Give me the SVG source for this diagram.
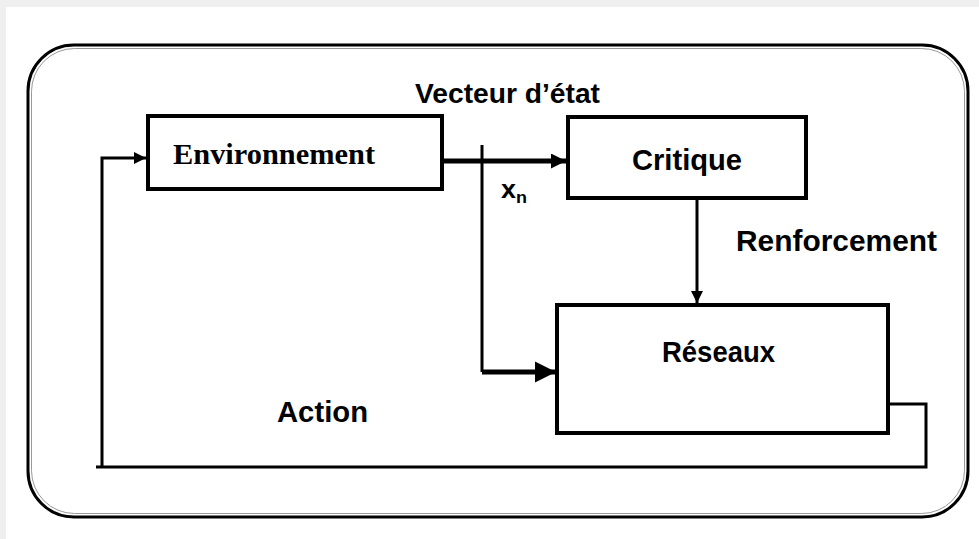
<svg xmlns="http://www.w3.org/2000/svg" width="979" height="539" viewBox="0 0 979 539">
<defs>
<style>
.box{fill:#fff;stroke:#000;stroke-width:4}
.ln{fill:none;stroke:#000;stroke-width:3}
.thick{fill:none;stroke:#000;stroke-width:5}
.lbl{font-family:"Liberation Sans",Arial,sans-serif;font-weight:bold;fill:#000}
.serif{font-family:"Liberation Serif","Times New Roman",serif;font-weight:bold;fill:#000}
</style>
<marker id="ah" viewBox="0 0 10 10" refX="10" refY="5" markerWidth="4" markerHeight="4" orient="auto" markerUnits="strokeWidth"><path d="M0,0 L10,5 L0,10 Z" fill="#000"/></marker>
<marker id="ahs" viewBox="0 0 10 10" refX="10" refY="5" markerWidth="3" markerHeight="3" orient="auto" markerUnits="strokeWidth"><path d="M0,0 L10,5 L0,10 Z" fill="#000"/></marker>
<marker id="ahb" viewBox="0 0 10 10" refX="10" refY="5" markerWidth="4.2" markerHeight="4.6" orient="auto" markerUnits="strokeWidth"><path d="M0,0 L10,5 L0,10 Z" fill="#000"/></marker>
</defs>
<rect x="0" y="0" width="979" height="539" fill="#fff"/>
<rect x="0" y="0" width="979" height="7" fill="#efefef"/>
<rect x="0" y="0" width="6" height="539" fill="#efefef"/>
<g id="frame">
<rect x="28" y="45" width="940" height="472" rx="46" ry="46" fill="none" stroke="#000" stroke-width="3"/>
<rect x="31.5" y="48.5" width="933" height="465" rx="43" ry="43" fill="none" stroke="#999" stroke-width="1"/>
</g>
<g id="connectors">
<path class="thick" d="M443,161 L566,161" marker-end="url(#ahs)"/>
<path class="ln" d="M482,145 L482,372"/>
<path class="thick" d="M482,372 L556,372" marker-end="url(#ahb)"/>
<path class="ln" d="M697,198 L697,303" marker-end="url(#ah)"/>
<path class="ln" d="M888,404 L926,404 L926,467 L96,467"/>
<path class="ln" d="M102,467 L102,158 L146,158" marker-end="url(#ah)"/>
</g>
<g id="environnement">
<rect class="box" x="148" y="116" width="294" height="73"/>
<text class="serif" x="173" y="164" font-size="30" textLength="202" lengthAdjust="spacingAndGlyphs">Environnement</text>
</g>
<g id="critique">
<rect class="box" x="568" y="117" width="238" height="81"/>
<text class="lbl" x="632" y="170" font-size="30" textLength="110" lengthAdjust="spacingAndGlyphs">Critique</text>
</g>
<g id="reseaux">
<rect class="box" x="557" y="305" width="331" height="128"/>
<text class="lbl" x="662" y="362" font-size="30" textLength="113" lengthAdjust="spacingAndGlyphs">Réseaux</text>
</g>
<g id="labels">
<text class="lbl" x="415" y="103" font-size="27" textLength="185" lengthAdjust="spacingAndGlyphs">Vecteur d’état</text>
<text class="lbl" x="501" y="198" font-size="25" textLength="15" lengthAdjust="spacingAndGlyphs">x</text>
<text class="lbl" x="516" y="203" font-size="17" textLength="11" lengthAdjust="spacingAndGlyphs">n</text>
<text class="lbl" x="736" y="251" font-size="30" textLength="201" lengthAdjust="spacingAndGlyphs">Renforcement</text>
<text class="lbl" x="277" y="422" font-size="30" textLength="91" lengthAdjust="spacingAndGlyphs">Action</text>
</g>
</svg>
